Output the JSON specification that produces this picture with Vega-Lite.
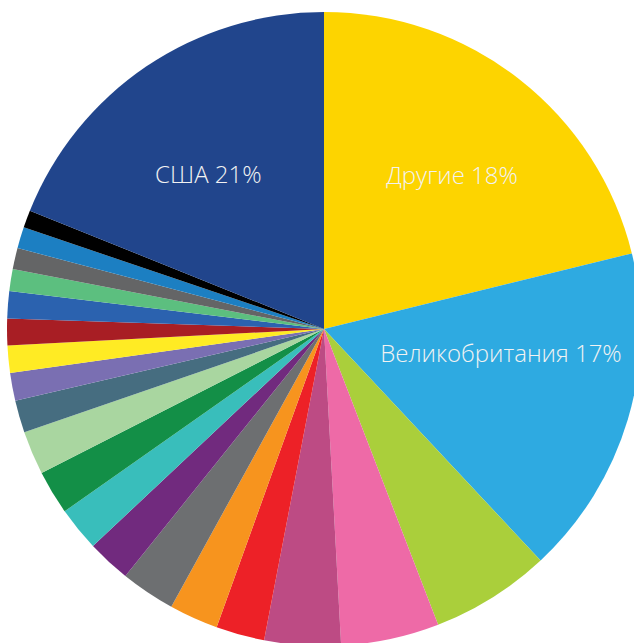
{
  "$schema": "https://vega.github.io/schema/vega-lite/v6.json",
  "width": 648,
  "height": 658,
  "autosize": "none",
  "padding": 0,
  "background": "white",
  "view": {"stroke": null},
  "resolve": {"scale": {"theta": "independent", "radius": "independent"}},
  "layer": [
    {
      "data": {
        "values": [
          {"idx": 1, "name": "Другие", "share": 76.2},
          {"idx": 2, "name": "Великобритания", "share": 60.7},
          {"idx": 3, "name": "c3", "share": 22.0},
          {"idx": 4, "name": "c4", "share": 18.0},
          {"idx": 5, "name": "c5", "share": 14.0},
          {"idx": 6, "name": "c6", "share": 8.9},
          {"idx": 7, "name": "c7", "share": 9.0},
          {"idx": 8, "name": "c8", "share": 10.0},
          {"idx": 9, "name": "c9", "share": 8.0},
          {"idx": 10, "name": "c10", "share": 8.1},
          {"idx": 11, "name": "c11", "share": 8.1},
          {"idx": 12, "name": "c12", "share": 8.0},
          {"idx": 13, "name": "c13", "share": 5.9},
          {"idx": 14, "name": "c14", "share": 5.1},
          {"idx": 15, "name": "c15", "share": 5.0},
          {"idx": 16, "name": "c16", "share": 4.9},
          {"idx": 17, "name": "c17", "share": 5.0},
          {"idx": 18, "name": "c18", "share": 4.0},
          {"idx": 19, "name": "c19", "share": 3.9},
          {"idx": 20, "name": "c20", "share": 3.9},
          {"idx": 21, "name": "c21", "share": 3.2},
          {"idx": 22, "name": "США", "share": 68.1}
        ]
      },
      "mark": {"type": "arc", "outerRadius": 317},
      "encoding": {
        "theta": {"field": "share", "type": "quantitative", "stack": true},
        "order": {"field": "idx", "type": "quantitative"},
        "color": {
          "field": "name",
          "type": "nominal",
          "legend": null,
          "scale": {
            "domain": ["Другие", "Великобритания", "c3", "c4", "c5", "c6", "c7", "c8", "c9", "c10", "c11", "c12", "c13", "c14", "c15", "c16", "c17", "c18", "c19", "c20", "c21", "США"],
            "range": ["#FDD400", "#2EAAE1", "#AACF3B", "#EE6AA7", "#BD4B84", "#ED2127", "#F7941E", "#6D6F71", "#712A7E", "#39BEBB", "#138F47", "#A9D6A0", "#466D80", "#7A6FB2", "#FFEB24", "#A81E24", "#2B62AF", "#5CBF7F", "#646566", "#1C7FC2", "#000000", "#21458C"]
          }
        }
      }
    },
    {
      "data": {
        "values": [
          {"label": "Другие 18%", "angle": 40.1, "dist": 198.7},
          {"label": "Великобритания 17%", "angle": 98.4, "dist": 178.9},
          {"label": "США 21%", "angle": 323.0, "dist": 192.2}
        ]
      },
      "mark": {"type": "text", "font": "Open Sans", "fontWeight": 300, "fontSize": 24, "color": "#F2F2F2", "align": "center", "baseline": "middle"},
      "encoding": {
        "theta": {"field": "angle", "type": "quantitative", "scale": {"domain": [0, 360], "range": [0, 6.283185307]}},
        "radius": {"field": "dist", "type": "quantitative", "scale": {"type": "linear", "domain": [0, 317], "range": [0, 317], "zero": true}},
        "text": {"field": "label", "type": "nominal"}
      }
    }
  ]
}
